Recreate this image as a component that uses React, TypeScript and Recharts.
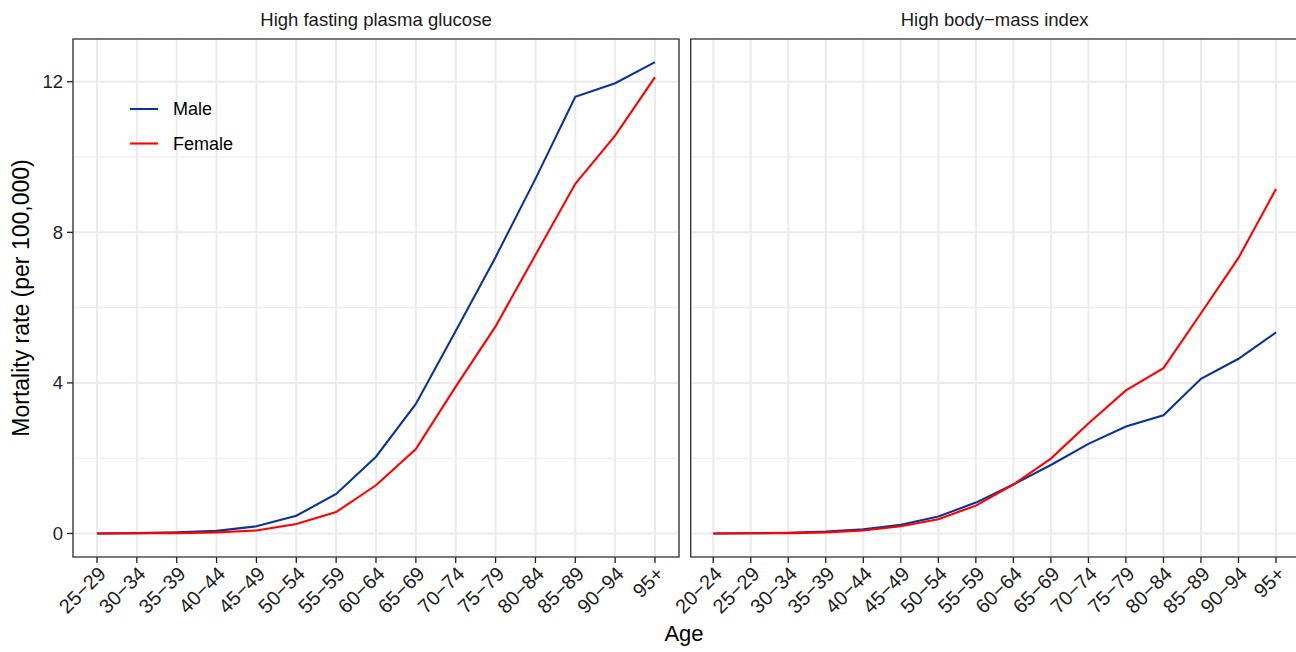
import React from "react";
import { LineChart, Line, XAxis, YAxis, CartesianGrid } from "recharts";

const FONT = '"Liberation Sans", Arial, Helvetica, sans-serif';

// ---- data ----
const fpgAges = ["25−29", "30−34", "35−39", "40−44", "45−49", "50−54", "55−59", "60−64", "65−69", "70−74", "75−79", "80−84", "85−89", "90−94", "95+"];
const fpgMale = [0, 0.01, 0.03, 0.07, 0.19, 0.47, 1.05, 2.04, 3.44, 5.38, 7.34, 9.42, 11.6, 11.96, 12.52];
const fpgFemale = [0, 0.005, 0.01, 0.03, 0.08, 0.25, 0.57, 1.28, 2.24, 3.9, 5.5, 7.4, 9.29, 10.57, 12.12];

const bmiAges = ["20−24", "25−29", "30−34", "35−39", "40−44", "45−49", "50−54", "55−59", "60−64", "65−69", "70−74", "75−79", "80−84", "85−89", "90−94", "95+"];
const bmiMale = [0, 0.005, 0.02, 0.05, 0.11, 0.23, 0.45, 0.82, 1.3, 1.82, 2.38, 2.84, 3.14, 4.11, 4.64, 5.34];
const bmiFemale = [0, 0.005, 0.01, 0.03, 0.08, 0.19, 0.38, 0.74, 1.3, 1.99, 2.92, 3.8, 4.39, 5.85, 7.32, 9.15];

const yTicks = [0, 4, 8, 12];
const yMinor = [2, 6, 10];
const panelTitles = ["High fasting plasma glucose", "High body−mass index"];
const seriesNames = ["Male", "Female"];
const seriesColors = ["#0B3592", "#FF0000"];

const fpgData = fpgAges.map((age, i) => ({ age, male: fpgMale[i], female: fpgFemale[i] }));
const bmiData = bmiAges.map((age, i) => ({ age, male: bmiMale[i], female: bmiFemale[i] }));

const Y_DOMAIN: [number, number] = [-0.625, 13.135];
const TICK_COLOR = "#1f1f1f";
const GRID = "#EBEBEB";
const TICK_FS = 18.5;
const XTICK_FS = 20;

const XTick = (props: any) => {
  const { x, y, payload } = props;
  return (
    <g transform={`translate(${x},${y})`}>
      <text
        x={0}
        y={0}
        dy="0.71em"
        textAnchor="end"
        transform="rotate(-45)"
        fill={TICK_COLOR}
        fontSize={XTICK_FS}
        fontFamily={FONT}
      >
        {payload.value}
      </text>
    </g>
  );
};

const Panel = (props: { data: any[]; width: number; margin: any; pad: number; showY: boolean }) => {
  const { data, width, margin, pad, showY } = props;
  return (
    <LineChart width={width} height={652} data={data} margin={margin} style={{ overflow: "visible" }}>
      <CartesianGrid horizontalValues={yMinor} vertical={false} stroke={GRID} strokeWidth={1.1} />
      <CartesianGrid horizontalValues={yTicks} stroke={GRID} strokeWidth={2} />
      <XAxis
        dataKey="age"
        type="category"
        interval={0}
        padding={{ left: pad, right: pad }}
        height={60}
        tickSize={6}
        tickMargin={2}
        axisLine={false}
        tickLine={{ stroke: TICK_COLOR, strokeWidth: 1.3 }}
        tick={<XTick />}
      />
      <YAxis
        type="number"
        domain={Y_DOMAIN}
        allowDataOverflow
        ticks={yTicks}
        hide={!showY}
        width={73}
        tickSize={6}
        tickMargin={4}
        axisLine={false}
        tickLine={{ stroke: TICK_COLOR, strokeWidth: 1.3 }}
        tick={{ fill: TICK_COLOR, fontSize: TICK_FS, fontFamily: FONT }}
      />
      <Line type="linear" dataKey="male" stroke={seriesColors[0]} strokeWidth={2.1} dot={false} isAnimationActive={false} />
      <Line type="linear" dataKey="female" stroke={seriesColors[1]} strokeWidth={2.1} dot={false} isAnimationActive={false} />
    </LineChart>
  );
};

export default function App() {
  return (
    <div
      style={{
        position: "absolute",
        left: 0,
        top: 0,
        width: 1296,
        height: 652,
        overflow: "hidden",
        background: "#fff",
        fontFamily: FONT,
      }}
    >
      <div style={{ position: "absolute", left: 0, top: 0 }}>
        <Panel data={fpgData} width={700} margin={{ top: 39, right: 21, bottom: 35, left: 0 }} pad={24} showY={true} />
      </div>
      <div style={{ position: "absolute", left: 620, top: 0 }}>
        <Panel data={bmiData} width={700} margin={{ top: 39, right: 21.5, bottom: 35, left: 70.7 }} pad={22.5} showY={false} />
      </div>
      <svg
        width={1296}
        height={652}
        style={{ position: "absolute", left: 0, top: 0, pointerEvents: "none" }}
      >
        <rect x={73} y={39} width={606} height={518} fill="none" stroke="#333" strokeWidth={1.3} />
        <rect x={690.7} y={39} width={607.8} height={518} fill="none" stroke="#333" strokeWidth={1.3} />
        <text x={376} y={26} textAnchor="middle" fontSize={18.5} fill="#1a1a1a" fontFamily={FONT}>
          {panelTitles[0]}
        </text>
        <text x={994.6} y={26} textAnchor="middle" fontSize={18.5} fill="#1a1a1a" fontFamily={FONT}>
          {panelTitles[1]}
        </text>
        <text x={684} y={641} textAnchor="middle" fontSize={22} fill="#000" fontFamily={FONT}>
          Age
        </text>
        <text
          transform="translate(29,298) rotate(-90)"
          textAnchor="middle"
          fontSize={23}
          fill="#000"
          fontFamily={FONT}
        >
          Mortality rate (per 100,000)
        </text>
        {seriesNames.map((name, i) => (
          <g key={name}>
            <line x1={130} x2={158} y1={109 + i * 34.5} y2={109 + i * 34.5} stroke={seriesColors[i]} strokeWidth={2.1} />
            <text x={173} y={109 + i * 34.5} dy="0.355em" fontSize={18} fill="#000" fontFamily={FONT}>
              {name}
            </text>
          </g>
        ))}
      </svg>
    </div>
  );
}
